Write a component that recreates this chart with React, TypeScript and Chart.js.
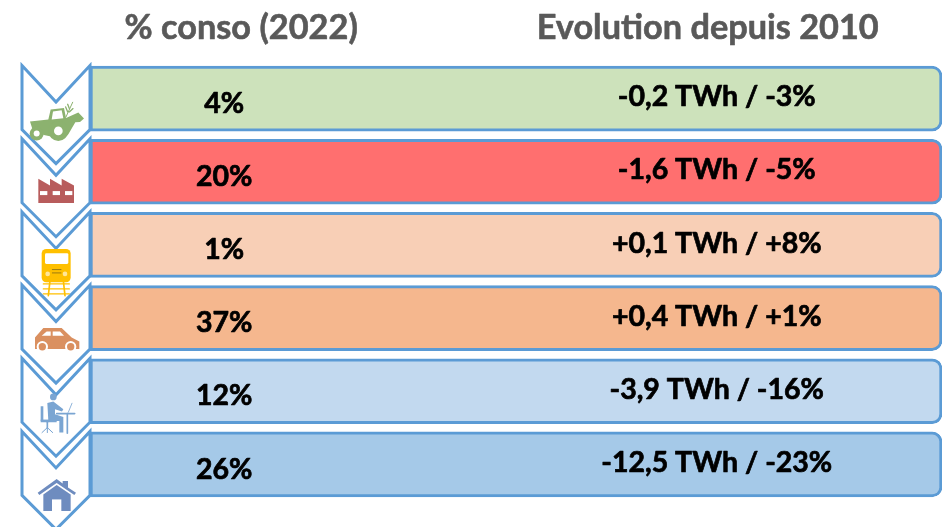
import React, { useEffect, useRef } from "react";
import { Chart, registerables } from "chart.js";

Chart.register(...registerables);

const sectors = ["Agriculture", "Industrie", "Transport ferroviaire", "Transport routier", "Tertiaire", "Résidentiel"];
const shareLabels = ["4%", "20%", "1%", "37%", "12%", "26%"];
const evolutionLabels = ["-0,2 TWh / -3%", "-1,6 TWh / -5%", "+0,1 TWh / +8%", "+0,4 TWh / +1%", "-3,9 TWh / -16%", "-12,5 TWh / -23%"];
const rowValues = [1, 1, 1, 1, 1, 1];
const rowColors = ["#CDE2BB", "#FF6F6F", "#F8CFB6", "#F5B78E", "#C2D9EF", "#A5C9E8"];
const headers = ["% conso (2022)", "Evolution depuis 2010"];
const FONT = "Lato, Carlito, sans-serif";
const BLUE = "#5B9BD5";

type C = CanvasRenderingContext2D;

function poly(ctx: C, pts: number[][], fill: string) {
  ctx.beginPath();
  pts.forEach((p, i) => (i ? ctx.lineTo(p[0], p[1]) : ctx.moveTo(p[0], p[1])));
  ctx.closePath();
  ctx.fillStyle = fill;
  ctx.fill();
}
function disc(ctx: C, x: number, y: number, r: number, fill: string) {
  ctx.beginPath();
  ctx.arc(x, y, r, 0, Math.PI * 2);
  ctx.fillStyle = fill;
  ctx.fill();
}
function seg(ctx: C, x1: number, y1: number, x2: number, y2: number, w: number, col: string) {
  ctx.beginPath();
  ctx.moveTo(x1, y1);
  ctx.lineTo(x2, y2);
  ctx.lineWidth = w;
  ctx.strokeStyle = col;
  ctx.lineCap = "round";
  ctx.stroke();
}
function boldText(ctx: C, text: string, x: number, y: number, weight: number) {
  ctx.lineWidth = weight;
  ctx.lineJoin = "round";
  ctx.strokeStyle = ctx.fillStyle as string;
  ctx.strokeText(text, x, y);
  ctx.fillText(text, x, y);
}

// Icons are sketched in a 3x local grid centred on the chevron of their row.
const icons: ((ctx: C) => void)[] = [
  (ctx) => {
    const g = "#8CB26F";
    ctx.translate(0, -145);
    poly(ctx, [[90, 214], [145, 208], [152, 178], [192, 173], [198, 203], [235, 187], [252, 205], [240, 215], [226, 216], [205, 252], [190, 266], [135, 255], [100, 245]], g);
    poly(ctx, [[159, 184], [185, 180], [190, 204], [155, 208]], "#fff");
    disc(ctx, 110, 250, 21, g);
    disc(ctx, 110, 250, 9, "#fff");
    disc(ctx, 175, 242, 30, g);
    disc(ctx, 175, 242, 13, "#fff");
    seg(ctx, 198, 200, 218, 156, 3, g);
    seg(ctx, 203, 185, 197, 170, 4, g);
    seg(ctx, 208, 175, 203, 162, 4, g);
    seg(ctx, 208, 185, 219, 175, 4, g);
  },
  (ctx) => {
    const r = "#B85C5C";
    ctx.translate(0, -364);
    poly(ctx, [[115, 458], [115, 385], [150, 405], [150, 385], [185, 405], [185, 385], [222, 405], [222, 458]], r);
    [120, 158, 195].forEach((x) => {
      ctx.fillStyle = "#fff";
      ctx.fillRect(x, 422, 22, 12);
    });
  },
  (ctx) => {
    const y = "#FFC000";
    ctx.translate(0, -583);
    [700, 715, 730].forEach((v) => seg(ctx, 130, v, 208, v, 4, y));
    seg(ctx, 150, 690, 145, 735, 5, y);
    seg(ctx, 190, 690, 195, 735, 5, y);
    ctx.beginPath();
    ctx.roundRect(125, 595, 87, 100, 14);
    ctx.fillStyle = y;
    ctx.fill();
    ctx.beginPath();
    ctx.roundRect(135, 608, 70, 32, 4);
    ctx.fillStyle = "#fff";
    ctx.fill();
    disc(ctx, 143, 670, 7, "#FFE699");
    disc(ctx, 195, 670, 7, "#FFE699");
    seg(ctx, 157, 657, 183, 657, 3, "#9C7A10");
    seg(ctx, 157, 667, 183, 667, 3, "#9C7A10");
  },
  (ctx) => {
    const o = "#DA9060";
    ctx.translate(0, -112);
    poly(ctx, [[105, 170], [130, 142], [185, 142], [215, 170], [238, 182], [238, 205], [105, 205]], o);
    poly(ctx, [[125, 165], [140, 152], [152, 152], [152, 165]], "#fff");
    poly(ctx, [[158, 152], [180, 152], [192, 165], [158, 165]], "#fff");
    disc(ctx, 127, 198, 17, "#fff");
    disc(ctx, 127, 198, 11, o);
    disc(ctx, 212, 198, 17, "#fff");
    disc(ctx, 212, 198, 11, o);
  },
  (ctx) => {
    const b = "#7AA5D2";
    ctx.translate(0, -331);
    disc(ctx, 160, 348, 10, b);
    poly(ctx, [[142, 366], [160, 362], [190, 385], [186, 392], [165, 385], [165, 400], [190, 408], [190, 455], [178, 455], [178, 420], [145, 420]], b);
    ctx.fillStyle = b;
    ctx.fillRect(122, 376, 8, 44);
    ctx.fillRect(122, 416, 48, 8);
    seg(ctx, 142, 424, 142, 440, 5, b);
    seg(ctx, 142, 440, 126, 455, 3, b);
    seg(ctx, 142, 440, 158, 455, 3, b);
    seg(ctx, 142, 440, 142, 455, 3, b);
    seg(ctx, 170, 398, 224, 398, 5, b);
    seg(ctx, 202, 398, 202, 457, 5, b);
    seg(ctx, 205, 394, 216, 367, 2.5, b);
  },
  (ctx) => {
    const h = "#6E8CBF";
    ctx.translate(0, -550);
    poly(ctx, [[113, 635], [170, 594], [188, 607], [188, 600], [204, 600], [204, 619], [228, 635], [223, 642], [170, 606], [118, 642]], h);
    poly(ctx, [[130, 640], [170, 612], [212, 640], [212, 690], [130, 690]], h);
    ctx.fillStyle = "#fff";
    ctx.fillRect(156, 655, 28, 35);
  },
];

const decorPlugin = {
  id: "decor",
  beforeDatasetsDraw(chart: Chart) {
    const { ctx, scales, chartArea } = chart;
    const cx = chartArea.left - 34;
    sectors.forEach((_, i) => {
      const cy = scales.y.getPixelForValue(i);
      ctx.save();
      ctx.beginPath();
      ctx.moveTo(cx - 34, cy - 33);
      ctx.lineTo(cx, cy + 3.5);
      ctx.lineTo(cx + 34, cy - 33);
      ctx.lineTo(cx + 34, cy + 31);
      ctx.lineTo(cx, cy + 65);
      ctx.lineTo(cx - 34, cy + 31);
      ctx.closePath();
      ctx.fillStyle = "#fff";
      ctx.fill();
      ctx.strokeStyle = BLUE;
      ctx.lineWidth = 3;
      ctx.lineJoin = "miter";
      ctx.stroke();
      ctx.restore();
    });
  },
  afterDatasetsDraw(chart: Chart) {
    const { ctx, scales, chartArea } = chart;
    const cx = chartArea.left - 34;
    const shareX = scales.x.getPixelForValue(0.1575);
    const evoX = scales.x.getPixelForValue(0.7356);
    ctx.save();
    ctx.textAlign = "center";
    ctx.textBaseline = "middle";
    ctx.fillStyle = "#595959";
    ctx.font = `bold 34.3px ${FONT}`;
    boldText(ctx, headers[0], shareX + 17, 28, 0.6);
    boldText(ctx, headers[1], evoX - 9, 28, 0.6);
    ctx.fillStyle = "#000000";
    ctx.font = `bold 28.5px ${FONT}`;
    sectors.forEach((_, i) => {
      const cy = scales.y.getPixelForValue(i);
      boldText(ctx, shareLabels[i], shareX, cy + 5, 0.7);
      boldText(ctx, evolutionLabels[i], evoX, cy - 1.5, 0.7);
    });
    ctx.restore();
    sectors.forEach((_, i) => {
      const cy = scales.y.getPixelForValue(i);
      ctx.save();
      ctx.translate(cx, cy);
      ctx.scale(1 / 3, 1 / 3);
      ctx.translate(-168, 0);
      icons[i](ctx);
      ctx.restore();
    });
  },
};

export default function App() {
  const ref = useRef<HTMLCanvasElement>(null);
  useEffect(() => {
    const chart = new Chart(ref.current!, {
      type: "bar",
      data: {
        labels: sectors,
        datasets: [
          {
            data: rowValues,
            backgroundColor: rowColors,
            borderColor: BLUE,
            borderWidth: 3,
            borderSkipped: false,
            borderRadius: { topLeft: 0, bottomLeft: 0, topRight: 10, bottomRight: 10 },
            barThickness: 65,
          },
        ],
      },
      options: {
        indexAxis: "y",
        responsive: false,
        animation: false,
        layout: { padding: { left: 90, right: 6, top: 62, bottom: 26 } },
        plugins: { legend: { display: false }, tooltip: { enabled: false } },
        scales: {
          x: { display: false, min: 0, max: 1 },
          y: { display: false },
        },
      },
      plugins: [decorPlugin],
    } as any);
    return () => chart.destroy();
  }, []);
  return (
    <canvas
      ref={ref}
      width={948}
      height={527}
      style={{ position: "fixed", left: 0, top: 0, width: 948, height: 527, display: "block" }}
    />
  );
}
